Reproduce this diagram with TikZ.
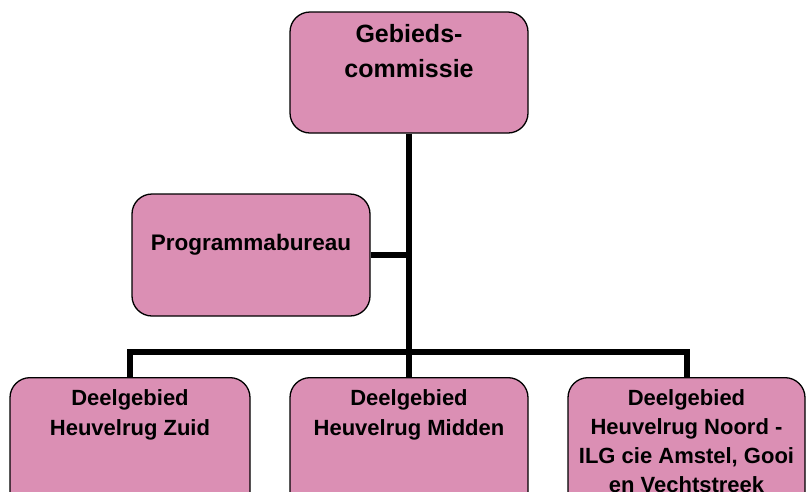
\documentclass[tikz,border=0pt]{standalone}
\usepackage{fontspec}
\setmainfont{Liberation Sans}
\definecolor{boxpink}{RGB}{219,143,180}
\begin{document}
\begin{tikzpicture}[x=1pt,y=-1pt,
  box/.style={draw=black, fill=boxpink, line width=1.3pt, rounded corners=20pt, inner sep=0pt},
  conn/.style={draw=black, line width=6pt, line join=miter}]
\clip (0,0) rectangle (809,491);
\fill[white] (0,0) rectangle (809,491);
\coordinate (j) at (409,352);
% boxes
\node[box] (top) at (409,72.5) {\parbox[c][121pt][t]{238pt}{\centering\fontsize{25}{35}\selectfont\bfseries\rule{0pt}{30pt}Gebieds-\\commissie}};
\node[box] (prog) at (251,255) {\parbox[c][122pt][t]{238pt}{\centering\fontsize{22.5}{30}\selectfont\bfseries\rule{0pt}{56pt}Programmabureau}};
\node[box, anchor=north] (zuid) at (130,377) {\parbox[c][140pt][t]{240pt}{\centering\fontsize{22}{29.5}\selectfont\bfseries\rule{0pt}{28pt}Deelgebied\\Heuvelrug Zuid}};
\node[box, anchor=north] (midden) at (409,377) {\parbox[c][140pt][t]{238pt}{\centering\fontsize{22}{29.5}\selectfont\bfseries\rule{0pt}{28pt}Deelgebied\\Heuvelrug Midden}};
\node[box, anchor=north] (noord) at (686.5,377) {\parbox[c][140pt][t]{237pt}{\centering\fontsize{22}{29}\selectfont\bfseries\rule{0pt}{28pt}Deelgebied\\Heuvelrug Noord -\\ILG cie Amstel, Gooi\\en Vechtstreek}};
% connectors
\draw[conn] (top.south) -- (midden.north);
\draw[conn] (prog.east) -- (prog.east -| top.south);
\draw[conn] (zuid.north) -- (zuid.north |- j) -- (noord.north |- j) -- (noord.north);
\end{tikzpicture}
\end{document}
